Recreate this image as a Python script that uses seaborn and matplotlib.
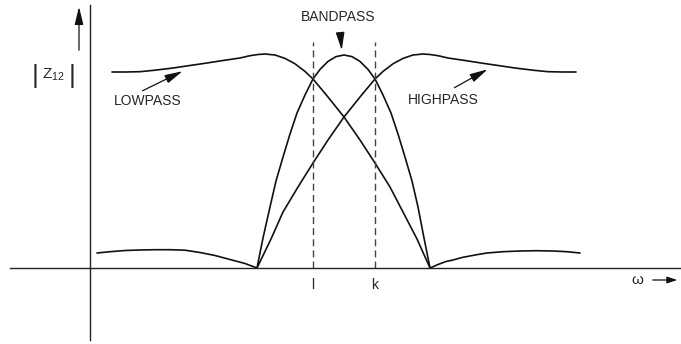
import matplotlib
matplotlib.use("Agg")
import matplotlib.pyplot as plt
import seaborn as sns
import pandas as pd

# ---- data (omega units, |Z12| units; origin at the axes crossing) ----
lowpass_pass_x = [22, 35, 50, 65, 83, 100, 117, 133, 150, 160, 168, 175, 185, 195,
                  205, 215, 223, 238, 254, 270, 285, 300, 313, 327, 340]
lowpass_pass_y = [196, 196, 196.3, 197.8, 200, 202.5, 205, 207.5, 210, 212.3, 213.5,
                  214, 213, 209.6, 204.2, 196.6, 189, 171, 151, 128, 105, 81, 56, 29, 0]

lowpass_stop_x = [7, 20, 35, 50, 65, 80, 95, 110, 125, 140, 155, 167]
lowpass_stop_y = [15, 16.3, 17.5, 18, 18.3, 18.3, 17.8, 15.5, 12.5, 8.5, 4.5, 0]

highpass_pass_x = [167, 181, 193, 208, 223, 238, 254, 270, 285, 293, 303, 313, 323,
                   333, 340, 348, 358, 375, 391, 408, 425, 443, 458, 473, 486]
highpass_pass_y = [0, 29, 56, 81, 105, 128, 151, 171, 189, 196.6, 204.2, 209.6, 213,
                   214, 213.5, 212.3, 210, 207.5, 205, 202.5, 200, 197.8, 196.3, 196, 196]

highpass_stop_x = [340, 348, 356, 363, 372, 385, 397, 413, 430, 447, 463, 477, 490]
highpass_stop_y = [0, 3.5, 6.5, 8, 10.5, 13, 15, 16.3, 17, 17.3, 17, 16.3, 15]

bandpass_x = [167, 173, 180, 186, 193, 200, 207, 215, 223, 230, 238, 246, 254, 262,
              270, 278, 285, 293, 301, 308, 315, 322, 328, 334, 340]
bandpass_y = [0, 30, 61, 87, 111, 134, 155, 173, 189, 198.6, 206.6, 211.4, 213, 211.4,
              206.6, 198.6, 189, 173, 155, 134, 111, 87, 61, 30, 0]

band_edges = [223, 285]
band_edge_labels = ["l", "k"]
band_edge_top = 226

# ---- figure ----
sns.set_style("white")
plt.rcParams["font.family"] = ["Liberation Sans", "DejaVu Sans"]
plt.rcParams["mathtext.fontset"] = "custom"
plt.rcParams["mathtext.rm"] = "Liberation Sans"
plt.rcParams["mathtext.it"] = "Liberation Sans"

fig = plt.figure(figsize=(6.81, 3.44), dpi=100)
ax = fig.add_axes([0, 0, 1, 1])

curves = [
    (lowpass_pass_x, lowpass_pass_y),
    (lowpass_stop_x, lowpass_stop_y),
    (highpass_pass_x, highpass_pass_y),
    (highpass_stop_x, highpass_stop_y),
    (bandpass_x, bandpass_y),
]
for cx, cy in curves:
    df = pd.DataFrame({"w": cx, "z": cy})
    sns.lineplot(data=df, x="w", y="z", ax=ax, color="#111111", lw=1.2,
                 sort=False, estimator=None)

ax.vlines(band_edges, 0, band_edge_top, colors="#444444", lw=1.0,
          linestyles=(0, (5, 3)))

ax.set_xlim(-90, 591)
ax.set_ylim(-76, 268)

# axes drawn as spines through the origin
for s in ["top", "right"]:
    ax.spines[s].set_visible(False)
ax.spines["left"].set_position(("data", 0))
ax.spines["bottom"].set_position(("data", 0))
ax.spines["left"].set_bounds(-72, 263)
ax.spines["bottom"].set_bounds(-80, 591)
for s in ["left", "bottom"]:
    ax.spines[s].set_color("#222222")
    ax.spines[s].set_linewidth(1.0)

ax.set_xticks(band_edges)
ax.set_xticklabels(band_edge_labels, fontsize=10)
ax.tick_params(axis="x", length=0, pad=7)
ax.set_yticks([])
ax.set_xlabel("")
ax.set_ylabel("")

arrow_kw = dict(arrowstyle="-|>,head_length=0.9,head_width=0.22",
                color="#111111", lw=0.9, mutation_scale=12)

# |Z12| label
ax.text(-55, 192, "|", fontsize=19, ha="center", va="center")
ax.text(-18, 192, "|", fontsize=19, ha="center", va="center")
ax.text(-37, 193, r"$\mathrm{Z}_{\mathrm{12}}$", fontsize=11,
        ha="center", va="center")
ax.annotate("", xy=(-11, 264), xytext=(-11, 215), arrowprops=arrow_kw)

ax.text(547, -12, "ω", fontsize=11, ha="center", va="center")
ax.annotate("", xy=(590, -12), xytext=(560, -12), annotation_clip=False,
            arrowprops=dict(arrowstyle="-|>,head_length=0.6,head_width=0.2",
                            color="#111111", lw=0.9, mutation_scale=10))

ax.text(248, 251, "BANDPASS", fontsize=10, ha="center", va="center")
ax.annotate("", xy=(252, 215), xytext=(250, 237), arrowprops=arrow_kw)

ax.text(58, 167, "LOWPASS", fontsize=10, ha="center", va="center")
ax.annotate("", xy=(95, 198), xytext=(50, 176), arrowprops=arrow_kw)

ax.text(353, 168, "HIGHPASS", fontsize=10, ha="center", va="center")
ax.annotate("", xy=(400, 200), xytext=(362, 179), arrowprops=arrow_kw)

fig.savefig("out.png", dpi=100)
